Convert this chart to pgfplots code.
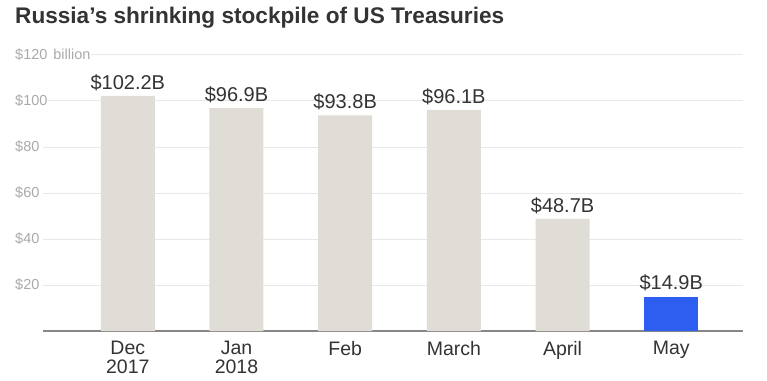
\documentclass[border=0pt]{standalone}
\usepackage{pgfplots}
\pgfplotsset{compat=1.18}
\usepackage{fontspec}
\setmainfont{Liberation Sans}
\definecolor{bargray}{RGB}{224,221,214}
\definecolor{barblue}{RGB}{45,94,240}
\definecolor{ticktxt}{RGB}{170,170,170}
\definecolor{gridc}{RGB}{232,232,232}
\definecolor{basec}{RGB}{135,135,135}
\definecolor{darktxt}{RGB}{51,51,51}
\begin{document}
\begin{tikzpicture}
\useasboundingbox (-43pt,-49pt) rectangle (724pt,331pt);
\node[anchor=base west, font=\bfseries\fontsize{22.6}{26}\selectfont, text=darktxt, inner sep=0pt] at (-28pt,307pt) {Russia’s shrinking stockpile of US Treasuries};
\begin{axis}[
  at={(0,0)}, anchor=south west,
  scale only axis, width=700pt, height=276pt,
  xmin=-0.78, xmax=5.66, ymin=0, ymax=120,
  ybar, bar width=54pt,
  axis lines*=left,
  x axis line style={basec, line width=1.5pt, -},
  y axis line style={draw=none},
  xtick={0,1,2,3,4,5},
  xticklabels={Dec\\2017, Jan\\2018, Feb, March, April, May},
  xticklabel style={align=center, font=\fontsize{19.5}{19}\selectfont, text=darktxt, yshift=-7pt},
  major tick length=0pt,
  ytick={20,40,60,80,100,120},
  yticklabels={\$20\hspace{4pt},\$40\hspace{4pt},\$60\hspace{4pt},\$80\hspace{4pt},\$100\hspace{4pt},\$120\hspace{6pt}billion\hspace{8pt}},
  yticklabel style={anchor=west, xshift=-28pt, fill=white, inner xsep=0pt, text=ticktxt, font=\fontsize{14.5}{16}\selectfont},
  ymajorgrids, grid style={gridc, line width=1pt},
  /pgf/number format/assume math mode=true,
  nodes near coords={\$\pgfmathprintnumber[fixed,fixed zerofill,precision=1]{\pgfplotspointmeta}B},
  nodes near coords style={font=\fontsize{20}{22}\selectfont, text=darktxt, anchor=south, yshift=2pt},
  clip=false,
]
\addplot[fill=bargray, draw=none, bar shift=0pt] coordinates {(0,102.2) (1,96.9) (2,93.8) (3,96.1) (4,48.7)};
\addplot[fill=barblue, draw=none, bar shift=0pt] coordinates {(5,14.9)};
\end{axis}
\end{tikzpicture}
\end{document}
